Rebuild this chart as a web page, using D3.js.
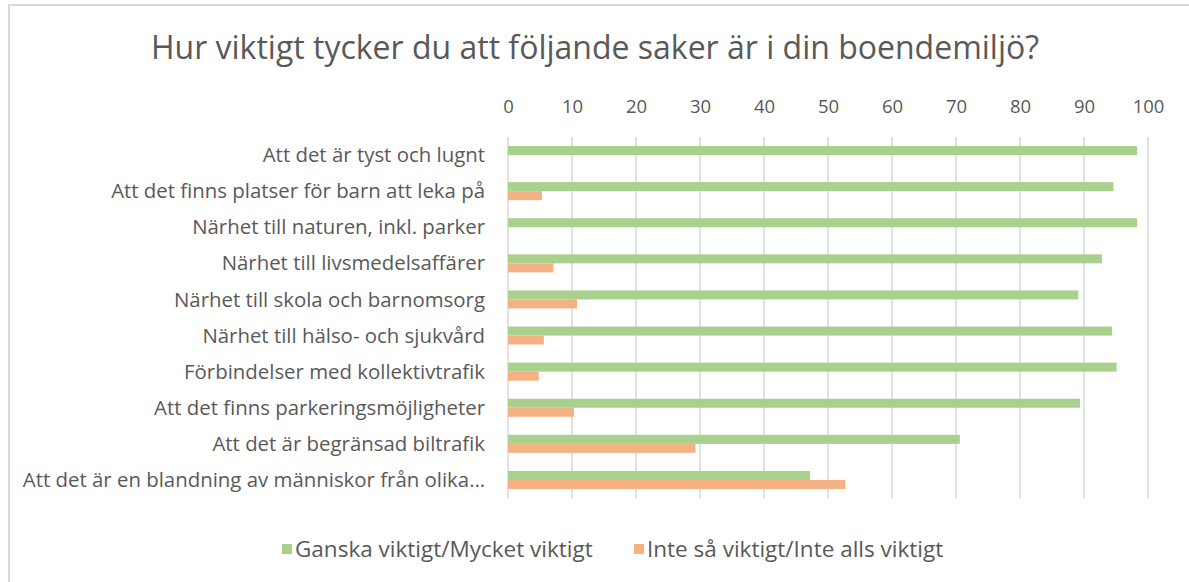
<!DOCTYPE html>
<html>
<head>
<meta charset="utf-8">
<script src="https://cdn.jsdelivr.net/npm/d3@7"></script>
<style>
  html, body { margin: 0; padding: 0; background: #fff; }
  svg { display: block; }
  text { font-family: "Open Sans", Lato, sans-serif; fill: #595959; }
</style>
</head>
<body>
<svg id="chart" width="1189" height="582"></svg>
<script>
const title = "Hur viktigt tycker du att följande saker är i din boendemiljö?";
const categories = [
  "Att det är tyst och lugnt",
  "Att det finns platser för barn att leka på",
  "Närhet till naturen, inkl. parker",
  "Närhet till livsmedelsaffärer",
  "Närhet till skola och barnomsorg",
  "Närhet till hälso- och sjukvård",
  "Förbindelser med kollektivtrafik",
  "Att det finns parkeringsmöjligheter",
  "Att det är begränsad biltrafik",
  "Att det är en blandning av människor från olika…"
];
const seriesNames = ["Ganska viktigt/Mycket viktigt", "Inte så viktigt/Inte alls viktigt"];
const important = [98.3, 94.6, 98.3, 92.8, 89.1, 94.4, 95.1, 89.4, 70.6, 47.2];
const notImportant = [0, 5.3, 0, 7.1, 10.8, 5.6, 4.8, 10.3, 29.3, 52.7];
const tickValues = [0, 10, 20, 30, 40, 50, 60, 70, 80, 90, 100];
const colors = ["#a9d18e", "#f4b183"];

const svg = d3.select("#chart");

// outer chart border
svg.append("rect")
  .attr("x", 9).attr("y", 5).attr("width", 1200).attr("height", 600)
  .attr("fill", "#fff").attr("stroke", "#d9d9d9").attr("stroke-width", 2);

const plot = { left: 508, right: 1148, top: 137, bottom: 498 };

const x = d3.scaleLinear().domain([0, 100]).range([plot.left, plot.right]);
const y = d3.scaleBand().domain(categories).range([plot.top, plot.bottom]).paddingInner(0.5).paddingOuter(0.25);
const sub = d3.scaleBand().domain(seriesNames).range([0, y.bandwidth()]);

// title
svg.append("text")
  .attr("x", 595).attr("y", 59)
  .attr("text-anchor", "middle")
  .style("font-size", "32px")
  .text(title);

// gridlines
svg.append("g")
  .selectAll("line")
  .data(tickValues)
  .join("line")
  .attr("x1", d => x(d)).attr("x2", d => x(d))
  .attr("y1", plot.top).attr("y2", plot.bottom)
  .attr("stroke", "#d9d9d9").attr("stroke-width", 1.5);

// top axis labels
const axis = svg.append("g")
  .attr("transform", `translate(0,${plot.top})`)
  .call(d3.axisTop(x).tickValues(tickValues).tickSize(0).tickPadding(24));
axis.select(".domain").remove();
axis.selectAll("text").style("font-size", "18.5px").style("font-family", "\"Open Sans\", sans-serif").attr("fill", "#595959");

// category labels
svg.append("g")
  .selectAll("text")
  .data(categories)
  .join("text")
  .attr("x", 485)
  .attr("y", d => y(d) + y.bandwidth() / 2)
  .attr("dy", "0.35em")
  .attr("text-anchor", "end")
  .style("font-size", "20.4px")
  .text(d => d);

// bars
const data = [important, notImportant];
data.forEach((vals, si) => {
  svg.append("g")
    .selectAll("rect")
    .data(vals)
    .join("rect")
    .attr("x", x(0))
    .attr("y", (d, i) => y(categories[i]) + sub(seriesNames[si]))
    .attr("width", d => x(d) - x(0))
    .attr("height", sub.bandwidth())
    .attr("fill", colors[si]);
});

// legend
const legendItems = [
  { name: seriesNames[0], color: colors[0], x: 282 },
  { name: seriesNames[1], color: colors[1], x: 634 }
];
const lg = svg.append("g");
legendItems.forEach(it => {
  lg.append("rect").attr("x", it.x).attr("y", 544).attr("width", 10).attr("height", 10).attr("fill", it.color);
  lg.append("text").attr("x", it.x + 13).attr("y", 549).attr("dy", "0.35em")
    .style("font-size", "22.5px").text(it.name);
});
</script>
</body>
</html>
